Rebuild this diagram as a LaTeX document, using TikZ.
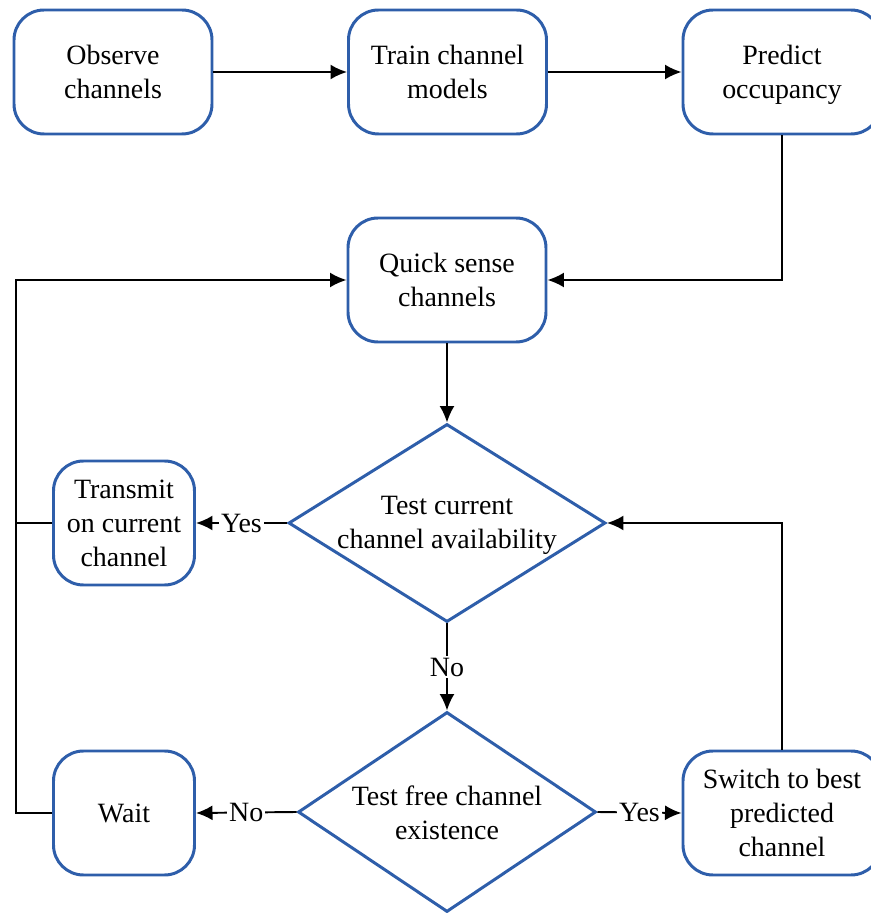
\documentclass[tikz,border=0pt]{standalone}
\usepackage{fontspec}
\setmainfont{Liberation Serif}
\usepackage{tikz}
\usetikzlibrary{arrows.meta,shapes.geometric,positioning,calc}
\definecolor{boxblue}{RGB}{46,94,170}
\tikzset{stepbox/.style={draw=boxblue, line width=1.7pt, rounded corners=0.6cm, minimum width=3.96cm, minimum height=2.48cm, align=center, inner sep=2pt},
smallbox/.style={stepbox, minimum width=2.82cm},
testshape/.style={draw=boxblue, line width=1.7pt, diamond, inner sep=0pt},
arr/.style={line width=1.1pt, -{Latex[length=0.33cm,width=0.3cm]}},
lin/.style={line width=1.1pt},
lbl/.style={fill=white, inner sep=1pt}}

\begin{document}
\begin{tikzpicture}[font=\fontsize{15.9}{19.4}\selectfont]
\useasboundingbox (0,0) rectangle (17.42,18.26);

% top row
\node[stepbox] (obs) at (2.26,16.82) {Observe\\channels};
\node[stepbox] (train) at (8.95,16.82) {Train channel\\models};
\node[stepbox, text depth=0pt] (pred) at (15.64,16.82) {Predict\\occupancy};
\node[stepbox] (quick) at (8.94,12.66) {Quick sense\\channels};

% tests
\node[testshape, minimum width=6.34cm, minimum height=3.96cm] (test1) at (8.94,7.80) {};
\node[align=center] at (8.94,7.76) {Test current\\channel availability};
\node[testshape, minimum width=5.96cm, minimum height=4.0cm] (test2) at (8.94,2.02) {};
\node[align=center] at (8.94,2.0) {Test free channel\\existence};

\node[smallbox] (trans) at (2.48,7.80) {Transmit\\on current\\channel};
\node[smallbox] (wait) at (2.48,2.0) {Wait};
\node[stepbox] (switch) at (15.64,2.0) {Switch to best\\predicted\\channel};

\coordinate (busb) at (0.32,2.0);
\coordinate (busm) at (0.32,7.80);

\draw[arr] (obs) -- (train);
\draw[arr] (train) -- (pred);
\draw[arr] (pred.south) |- (quick.east);
\draw[arr] (quick) -- (test1.north);
\draw[arr] (test1.west) -- node[lbl] {Yes} (trans.east);
\draw[arr] (test1.south) -- node[lbl] {No} (test2.north);
\draw[arr] (test2.west) -- node[lbl] {No} (wait.east);
\draw[arr] (test2.east) -- node[lbl] {Yes} (switch.west);
\draw[arr] (switch.north) |- (test1.east);
\draw[arr] (wait.west) -- (busb) |- (quick.west);
\draw[lin] (trans.west) -- (busm);

\end{tikzpicture}
\end{document}
